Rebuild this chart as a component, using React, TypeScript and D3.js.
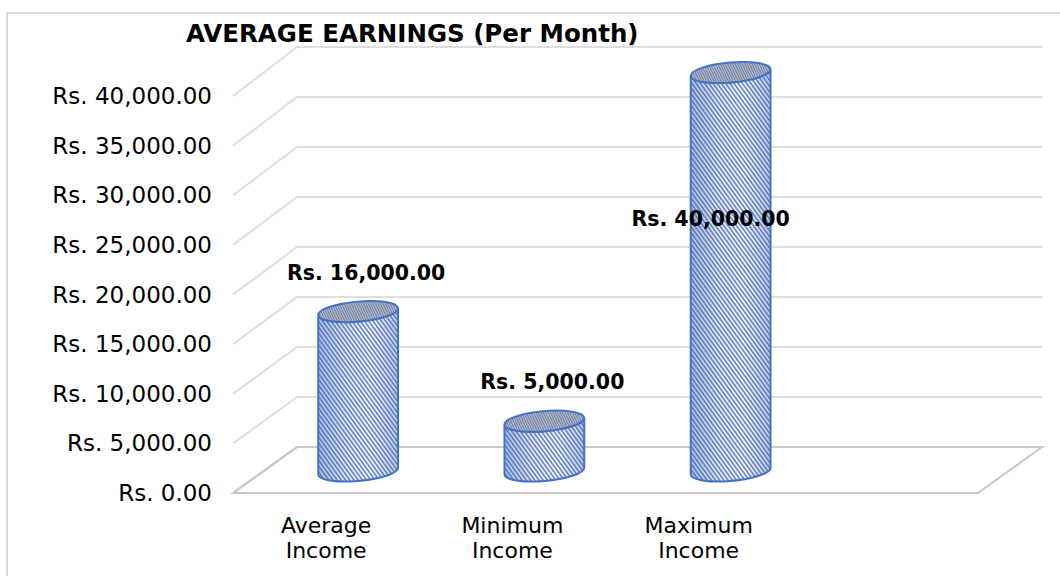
import React from "react";
import * as d3 from "d3";

const categories = ["Average Income", "Minimum Income", "Maximum Income", ""];
const values = [16000, 5000, 40000, null];
const valueLabels = ["Rs. 16,000.00", "Rs. 5,000.00", "Rs. 40,000.00", ""];
const tickValues = [0, 5000, 10000, 15000, 20000, 25000, 30000, 35000, 40000];
const title = "AVERAGE EARNINGS (Per Month)";

const W = 1060;
const H = 576;

const frontX0 = 233, frontX1 = 978;
const depthDX = 64;
const yFront = d3.scaleLinear().domain([0, 40000]).range([493, 96]);
const yBack = d3.scaleLinear().domain([0, 40000]).range([447, 47]);
const yMid = (v: number) => (yFront(v) + yBack(v)) / 2 + 1;
const xFront = d3.scaleBand<string>().domain(categories.map((c, i) => String(i))).range([frontX0, frontX1]);
const xMid = d3.scaleBand<string>().domain(categories.map((c, i) => String(i))).range([frontX0 + depthDX / 2, frontX1 + depthDX / 2]);

const fmtTick = (v: number) => "Rs. " + d3.format(",.2f")(v);

function extremes(a: number, b: number, phiDeg: number) {
  const phi = (phiDeg * Math.PI) / 180;
  const t = Math.atan2(-b * Math.sin(phi), a * Math.cos(phi));
  const px = a * Math.cos(t) * Math.cos(phi) - b * Math.sin(t) * Math.sin(phi);
  const py = a * Math.cos(t) * Math.sin(phi) + b * Math.sin(t) * Math.cos(phi);
  return px >= 0 ? { rx: [px, py], lx: [-px, -py] } : { rx: [-px, -py], lx: [px, py] };
}

export default function App() {
  const font = "'DejaVu Sans', sans-serif";
  const rx = xMid.bandwidth() * 0.215;
  const ry = 10;
  const phi = -5;
  const ex = extremes(rx, ry, phi);

  return (
    <svg width={W} height={H} style={{ position: "absolute", left: 0, top: 0, background: "#fff" }}>
      <defs>
        <linearGradient id="bodyGrad" x1="0" x2="1" y1="0" y2="0">
          <stop offset="0" stopColor="#a9bce2" />
          <stop offset="0.35" stopColor="#dde6f6" />
          <stop offset="0.65" stopColor="#f2f6fc" />
          <stop offset="1" stopColor="#b9c9e7" />
        </linearGradient>
        <pattern id="hatch" width="3.4" height="3.4" patternUnits="userSpaceOnUse" patternTransform="rotate(-36)">
          <line x1="0.8" y1="0" x2="0.8" y2="3.4" stroke="#4262ad" strokeWidth="1.2" />
        </pattern>
        <pattern id="hatchTop" width="2.2" height="2.2" patternUnits="userSpaceOnUse" patternTransform="rotate(-20)">
          <rect width="2.2" height="2.2" fill="#b9c0d0" />
          <line x1="0.5" y1="0" x2="0.5" y2="2.2" stroke="#6a789a" strokeWidth="1" />
        </pattern>
      </defs>
      <rect x={7} y={13} width={1100} height={700} fill="#fff" stroke="#d9d9d9" strokeWidth={2} />

      {tickValues.map((t) => (
        <path
          key={t}
          d={`M${frontX0},${yFront(t)} L${frontX0 + depthDX},${yBack(t)} L${frontX1 + depthDX},${yBack(t)}`}
          fill="none"
          stroke={t === 0 ? "#c8c8c8" : "#dedede"}
          strokeWidth={2}
        />
      ))}
      <path
        d={`M${frontX0},${yFront(0)} L${frontX0 + depthDX},${yBack(0)} L${frontX1 + depthDX},${yBack(0)} L${frontX1},${yFront(0)} Z`}
        fill="none"
        stroke="#c8c8c8"
        strokeWidth={2}
      />

      {tickValues.map((t) => (
        <text key={t} x={212} y={yFront(t)} textAnchor="end" dominantBaseline="central" fontFamily={font} fontSize={23} fill="#000">
          {fmtTick(t)}
        </text>
      ))}

      {categories.map((c, i) => {
        if (!c) return null;
        const words = c.split(" ");
        const cx = (xFront(String(i)) as number) + xFront.bandwidth() / 2;
        return (
          <text key={c} x={cx} textAnchor="middle" fontFamily={font} fontSize={22} fill="#000">
            {words.map((w, j) => (
              <tspan key={j} x={cx} y={533 + j * 25}>
                {w}
              </tspan>
            ))}
          </text>
        );
      })}

      {values.map((v, i) => {
        if (v == null) return null;
        const cx = (xMid(String(i)) as number) + xMid.bandwidth() / 2;
        const topY = yMid(v);
        const botY = yMid(0);
        const body = `M${cx + ex.lx[0]},${topY + ex.lx[1]} L${cx + ex.lx[0]},${botY + ex.lx[1]} A${rx},${ry} ${phi} 0 0 ${cx + ex.rx[0]},${botY + ex.rx[1]} L${cx + ex.rx[0]},${topY + ex.rx[1]} A${rx},${ry} ${phi} 0 1 ${cx + ex.lx[0]},${topY + ex.lx[1]} Z`;
        return (
          <g key={i}>
            <path d={body} fill="url(#bodyGrad)" />
            <path d={body} fill="url(#hatch)" />
            <path d={body} fill="none" stroke="#4472c4" strokeWidth={2} />
            <ellipse cx={cx} cy={topY} rx={rx} ry={ry} transform={`rotate(${phi},${cx},${topY})`} fill="url(#hatchTop)" stroke="#4472c4" strokeWidth={2} />
          </g>
        );
      })}

      {values.map((v, i) => {
        if (v == null) return null;
        const cx = (xMid(String(i)) as number) + xMid.bandwidth() / 2;
        const topY = yMid(v);
        const inside = topY - 30 < 60;
        const lx = inside ? cx - 20 : cx + 8;
        const ly = inside ? topY + 0.385 * (yMid(0) - topY) : topY - 32;
        return (
          <text key={i} x={lx} y={ly} textAnchor="middle" fontFamily={font} fontWeight="bold" fontSize={20.5} fill="#000">
            {valueLabels[i]}
          </text>
        );
      })}

      <text x={186} y={42} fontFamily={font} fontWeight="bold" fontSize={24.5} fill="#000">
        {title}
      </text>
    </svg>
  );
}
